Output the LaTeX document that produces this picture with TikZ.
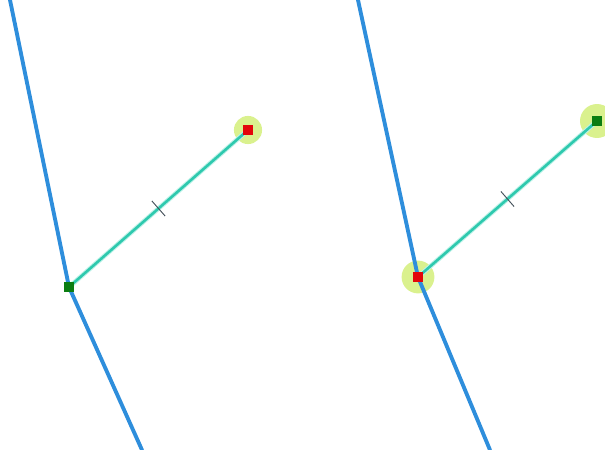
\documentclass[tikz,border=0pt]{standalone}
\usetikzlibrary{calc}
\definecolor{roadblue}{HTML}{2E8EDC}
\definecolor{linkcyan}{HTML}{2EC9AE}
\definecolor{linkedge}{HTML}{BDF2E8}
\definecolor{halogreen}{HTML}{DAF18E}
\definecolor{endgreen}{HTML}{0B7D12}
\definecolor{endred}{HTML}{E3060B}
\definecolor{tickgray}{HTML}{46525C}

\begin{document}
\begin{tikzpicture}[x=0.03cm, y=-0.03cm,
  road/.style={roadblue, line width=3.3pt, line cap=round},
  link/.style={linkcyan, line width=2.2pt},
  linkglow/.style={linkedge, line width=4pt},
  vertex/.style={fill=#1, minimum size=8.5pt, inner sep=0pt},
  halo/.style={circle, fill=halogreen, minimum size=#1, inner sep=0pt},
  tickmark/.style={tickgray, line width=0.8pt}]

  \useasboundingbox (0,0) rectangle (605,450);

  % Halos under the selected ends
  \node[halo=24pt] (h1) at (248,130) {};
  \node[halo=28pt] (h2) at (418,277) {};
  \node[halo=29pt] (h3) at (597,121) {};

  % Left panel: road and new link
  \coordinate (t1) at (10,0);
  \coordinate (b1) at (142,450);
  \node[vertex=endgreen] (g1) at (69,287) {};
  \node[vertex=endred] (r1) at (248,130) {};
  \draw[road] (t1) -- (g1.center) -- (b1);
  \draw[linkglow] (g1.center) -- (r1.center);
  \draw[link] (g1.center) -- (r1.center);
  \coordinate (m1) at ($(g1)!0.5!(r1)$);
  \draw[tickmark] ($(m1)!8.5pt!90:(r1)$) -- ($(m1)!8.5pt!-90:(r1)$);

  % Right panel: same link, ends swapped
  \coordinate (t2) at (358,0);
  \coordinate (b2) at (490,450);
  \node[vertex=endred] (r2) at (418,277) {};
  \node[vertex=endgreen] (g2) at (597,121) {};
  \draw[road] (t2) -- (r2.center) -- (b2);
  \draw[linkglow] (r2.center) -- (g2.center);
  \draw[link] (r2.center) -- (g2.center);
  \coordinate (m2) at ($(r2)!0.5!(g2)$);
  \draw[tickmark] ($(m2)!8.5pt!90:(g2)$) -- ($(m2)!8.5pt!-90:(g2)$);

  % Ends on top
  \foreach \n/\c in {g1/endgreen, r1/endred, r2/endred, g2/endgreen} {
    \fill[\c] ($(\n)+(-5,-5)$) rectangle ($(\n)+(5,5)$);
  }

\end{tikzpicture}
\end{document}
